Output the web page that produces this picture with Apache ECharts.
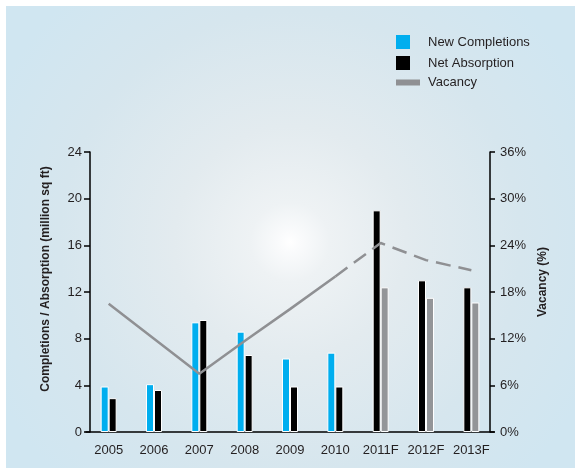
<!DOCTYPE html>
<html>
<head>
<meta charset="utf-8">
<script src="https://cdn.jsdelivr.net/npm/echarts@6/dist/echarts.min.js"></script>
<style>
  html, body { margin: 0; padding: 0; background: #ffffff; }
  #chart { width: 576px; height: 470px; }
</style>
</head>
<body>
<div id="chart"></div>
<script>
// Office market: supply, take-up and vacancy, actuals and forecasts
const years = ['2005', '2006', '2007', '2008', '2009', '2010', '2011F', '2012F', '2013F'];
const forecastFrom = 6; // index of the first forecast year

// million sq ft
const newCompletions = [3.9, 4.1, 9.4, 8.6, 6.3, 6.8, 12.4, 11.5, 11.1];
const netAbsorption  = [2.9, 3.6, 9.6, 6.6, 3.9, 3.9, 19.0, 13.0, 12.4];
// percent
const vacancy = [16.5, 12.0, 7.5, 11.7, 15.8, 20.0, 24.3, 22.1, 20.8];

const leftTicks = { min: 0, max: 24, interval: 4 };
const rightTicks = { min: 0, max: 36, interval: 6 };

const BLUE = '#00aeef';
const BLACK = '#000000';
const GREY = '#939598';
const FONT = '"Liberation Sans", Arial, sans-serif';
const TEXT = '#231f20';

// Actual years: completions (blue) then absorption (black).
// Forecast years: absorption (black) then completions (grey).
const firstSlot = years.map((y, i) => i < forecastFrom
  ? newCompletions[i]
  : { value: netAbsorption[i], itemStyle: { color: BLACK } });
const secondSlot = years.map((y, i) => i < forecastFrom
  ? netAbsorption[i]
  : { value: newCompletions[i], itemStyle: { color: GREY } });

const vacancyActual = vacancy.map((v, i) => i < forecastFrom ? v : '-');
const vacancyForecast = vacancy.map((v, i) => i >= forecastFrom - 1 ? v : '-');

const chart = echarts.init(document.getElementById('chart'), null, { renderer: 'canvas' });

const legendBase = {
  orient: 'vertical',
  left: 391,
  icon: 'rect',
  selectedMode: false,
  itemStyle: { borderWidth: 0 },
  textStyle: { fontFamily: FONT, fontSize: 13, color: TEXT }
};

chart.setOption({
  animation: false,
  backgroundColor: '#ffffff',
  graphic: [{
    type: 'rect',
    z: -10,
    silent: true,
    shape: { x: 6, y: 6, width: 569, height: 462 },
    style: {
      fill: new echarts.graphic.RadialGradient(290, 242, 330, [
        { offset: 0, color: '#ffffff' },
        { offset: 0.03, color: '#fafbfc' },
        { offset: 0.12, color: '#eef2f4' },
        { offset: 0.35, color: '#e3ebef' },
        { offset: 0.7, color: '#d6e6ee' },
        { offset: 1, color: '#d0e6f1' }
      ], true)
    }
  }],
  legend: [
    Object.assign({}, legendBase, {
      top: 30, itemWidth: 14, itemHeight: 14,
      data: ['New Completions'],
      textStyle: Object.assign({}, legendBase.textStyle, { padding: [0, 0, 0, 13] })
    }),
    Object.assign({}, legendBase, {
      top: 51, itemWidth: 14, itemHeight: 14,
      data: ['Net Absorption'],
      textStyle: Object.assign({}, legendBase.textStyle, { padding: [0, 0, 0, 13] })
    }),
    Object.assign({}, legendBase, {
      top: 71, itemWidth: 24, itemHeight: 6,
      data: ['Vacancy'],
      textStyle: Object.assign({}, legendBase.textStyle, { padding: [0, 0, 0, 3] })
    })
  ],
  grid: { left: 86, right: 82, top: 152, bottom: 38 },
  xAxis: {
    type: 'category',
    data: years,
    axisLine: { lineStyle: { color: BLACK, width: 1.5 } },
    axisTick: { show: false },
    axisLabel: { interval: 0, fontFamily: FONT, fontSize: 13, color: TEXT, margin: 12 }
  },
  yAxis: [{
    type: 'value',
    position: 'left',
    offset: -4,
    min: leftTicks.min, max: leftTicks.max, interval: leftTicks.interval,
    name: 'Completions / Absorption (million sq ft)',
    nameLocation: 'middle',
    nameRotate: 90,
    nameGap: 38,
    nameTextStyle: { fontFamily: FONT, fontSize: 12, fontWeight: 'bold', color: TEXT, padding: [0, 0, 0, 26] },
    axisLine: { show: true, lineStyle: { color: BLACK, width: 1.5 } },
    axisTick: { show: true, inside: false, length: 6, lineStyle: { color: BLACK, width: 1.5 } },
    axisLabel: { fontFamily: FONT, fontSize: 13, color: TEXT, margin: 8 },
    splitLine: { show: false }
  }, {
    type: 'value',
    position: 'right',
    offset: -4,
    min: rightTicks.min, max: rightTicks.max, interval: rightTicks.interval,
    name: 'Vacancy (%)',
    nameLocation: 'middle',
    nameRotate: 90,
    nameGap: 44,
    nameTextStyle: { fontFamily: FONT, fontSize: 12, fontWeight: 'bold', color: TEXT, padding: [0, 0, 0, 20] },
    axisLine: { show: true, lineStyle: { color: BLACK, width: 1.5 } },
    axisTick: { show: true, inside: false, length: 5, lineStyle: { color: BLACK, width: 1.5 } },
    axisLabel: { fontFamily: FONT, fontSize: 13, color: TEXT, margin: 10, formatter: '{value}%' },
    splitLine: { show: false }
  }],
  series: [{
    name: 'New Completions',
    type: 'bar',
    barWidth: 8,
    barGap: '0%',
    itemStyle: { color: BLUE, borderColor: '#ffffff', borderWidth: 1 },
    data: firstSlot,
    z: 2
  }, {
    name: 'Net Absorption',
    type: 'bar',
    barWidth: 8,
    barGap: '0%',
    itemStyle: { color: BLACK, borderColor: '#ffffff', borderWidth: 1 },
    data: secondSlot,
    z: 2
  }, {
    name: 'Vacancy',
    type: 'line',
    yAxisIndex: 1,
    symbol: 'none',
    itemStyle: { color: '#8f9093' },
    lineStyle: { color: '#8f9093', width: 2.5 },
    data: vacancyActual,
    z: 3
  }, {
    name: 'Vacancy',
    type: 'line',
    yAxisIndex: 1,
    symbol: 'none',
    itemStyle: { color: '#8f9093' },
    lineStyle: { color: '#8f9093', width: 2.5, type: [15, 8] },
    data: vacancyForecast,
    z: 3
  }]
});
</script>
</body>
</html>
